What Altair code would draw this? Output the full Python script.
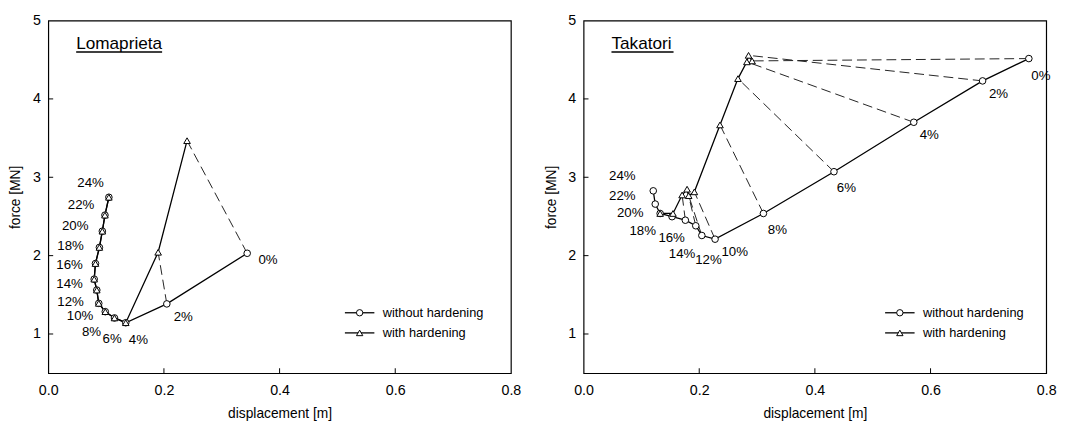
import altair as alt
import pandas as pd

FONT = "Liberation Sans"
W, H = 471, 359

PCT_LABELS = ["0%", "2%", "4%", "6%", "8%", "10%", "12%", "14%", "16%", "18%", "20%", "22%", "24%"]
SERIES = ["without hardening", "with hardening"]
SHAPES = ["circle", "triangle-up"]
X_TICKS = [0.0, 0.2, 0.4, 0.6, 0.8]
Y_TICKS = [1, 2, 3, 4, 5]

# ---- Lomaprieta ----
loma_without_x = [0.344, 0.205, 0.134, 0.1145, 0.0986, 0.0873, 0.0839, 0.0794, 0.0816, 0.0884, 0.0935, 0.098, 0.1048]
loma_without_y = [2.03, 1.384, 1.144, 1.205, 1.285, 1.391, 1.561, 1.70, 1.899, 2.105, 2.312, 2.517, 2.745]
loma_with_x = [0.240, 0.190, 0.134, 0.1145, 0.0986, 0.0873, 0.0839, 0.0794, 0.0816, 0.0884, 0.0935, 0.098, 0.1048]
loma_with_y = [3.467, 2.043, 1.144, 1.205, 1.285, 1.391, 1.561, 1.70, 1.899, 2.105, 2.312, 2.517, 2.745]
loma_label_x = [0.380, 0.2335, 0.1558, 0.1105, 0.0748, 0.0551, 0.0386, 0.0369, 0.0369, 0.0386, 0.0466, 0.0568, 0.0731]
loma_label_y = [1.948, 1.214, 0.926, 0.938, 1.020, 1.226, 1.412, 1.639, 1.874, 2.121, 2.381, 2.650, 2.931]

# ---- Takatori ----
taka_without_x = [0.770, 0.690, 0.571, 0.433, 0.311, 0.2274, 0.2045, 0.194, 0.176, 0.153, 0.1324, 0.1239, 0.1205]
taka_without_y = [4.515, 4.230, 3.702, 3.071, 2.538, 2.210, 2.257, 2.381, 2.452, 2.497, 2.538, 2.658, 2.827]
taka_with_x = [0.2914, 0.2853, 0.2824, 0.267, 0.2359, 0.1916, 0.1818, 0.179, 0.1704, 0.1546, 0.1324]
taka_with_y = [4.485, 4.556, 4.473, 4.259, 3.668, 2.814, 2.765, 2.848, 2.774, 2.538, 2.538]
taka_label_x = [0.7909, 0.7176, 0.5977, 0.4545, 0.3352, 0.2614, 0.2160, 0.1704, 0.1523, 0.1022, 0.0807, 0.0671, 0.0671]
taka_label_y = [4.287, 4.061, 3.537, 2.864, 2.328, 2.040, 1.949, 2.023, 2.218, 2.312, 2.538, 2.764, 3.020]


def legend_layers(leg_x):
    """Key drawn as a small line with its marker and the series name."""
    out = []
    for i, (name, shp) in enumerate(zip(SERIES, SHAPES)):
        row_y = H - 61.5 + i * 20.5
        d = pd.DataFrame({"series": [name]})
        out.append(alt.Chart(d).mark_rule(color="black", strokeWidth=1.3).encode(
            x=alt.value(leg_x), x2=alt.value(leg_x + 30), y=alt.value(row_y)))
        out.append(alt.Chart(d).mark_point(shape=shp, filled=False, fill="white", fillOpacity=1,
                                           stroke="black", strokeWidth=1, size=42, opacity=1).encode(
            x=alt.value(leg_x + 15), y=alt.value(row_y)))
        out.append(alt.Chart(d).mark_text(font=FONT, fontSize=13, color="black", align="left",
                                          baseline="middle").encode(
            x=alt.value(leg_x + 38.5), y=alt.value(row_y), text="series:N"))
    return out


def panel(title, wo_x, wo_y, w_x, w_y, lab_x, lab_y, title_w, leg_x):
    pts = pd.DataFrame({
        "x": wo_x + w_x,
        "y": wo_y + w_y,
        "series": [SERIES[0]] * len(wo_x) + [SERIES[1]] * len(w_x),
        "step": list(range(len(wo_x))) + list(range(len(w_x))),
    })
    m = min(len(wo_x), len(w_x))
    conn = pd.DataFrame({"x": wo_x[:m], "y": wo_y[:m], "x2": w_x[:m], "y2": w_y[:m]})
    conn = conn[((conn.x - conn.x2).abs() > 1e-6) | ((conn.y - conn.y2).abs() > 1e-6)]
    labels = pd.DataFrame({"x": lab_x, "y": lab_y, "t": PCT_LABELS})

    xs = alt.Scale(domain=[0, 0.8], nice=False, zero=False)
    ys = alt.Scale(domain=[0.5, 5], nice=False, zero=False)
    X = alt.X("x:Q", scale=xs, axis=alt.Axis(values=X_TICKS, format=".1f", title="displacement [m]",
                                             labelPadding=11, titlePadding=10, labelFlush=False))
    Y = alt.Y("y:Q", scale=ys, axis=alt.Axis(values=Y_TICKS, format="d", title="force [MN]",
                                             labelPadding=8, titlePadding=10, labelFlush=False))

    dashed = alt.Chart(conn).mark_rule(color="#222", strokeWidth=1, strokeDash=[10, 5]).encode(
        x=X, y=Y, x2="x2:Q", y2="y2:Q")
    lines = alt.Chart(pts).mark_line(color="black", strokeWidth=1.3).encode(
        x=X, y=Y, detail="series:N", order="step:Q")
    points = alt.Chart(pts).mark_point(filled=False, fill="white", stroke="black", strokeWidth=1,
                                       size=45, opacity=1, fillOpacity=1).encode(
        x=X, y=Y,
        shape=alt.Shape("series:N", scale=alt.Scale(domain=SERIES, range=SHAPES), legend=None))
    texts = alt.Chart(labels).mark_text(font=FONT, fontSize=13.5, color="black",
                                        align="center", baseline="middle").encode(
        x=X, y=Y, text="t:N")

    xt = alt.Chart(pd.DataFrame({"x": X_TICKS[1:-1]})).mark_rule(color="black", strokeWidth=1).encode(
        x=X, y=alt.value(H), y2=alt.value(H - 5))
    yt = alt.Chart(pd.DataFrame({"y": Y_TICKS[:-1]})).mark_rule(color="black", strokeWidth=1).encode(
        y=Y, x=alt.value(0), x2=alt.value(5))

    tdf = pd.DataFrame({"t": [title]})
    ttl = alt.Chart(tdf).mark_text(font=FONT, fontSize=17.5, color="black", align="left",
                                   baseline="alphabetic").encode(
        x=alt.value(28.4), y=alt.value(29), text="t:N")
    uline = alt.Chart(tdf).mark_rule(color="black", strokeWidth=1.5).encode(
        x=alt.value(28.4), x2=alt.value(28.4 + title_w), y=alt.value(32))

    return alt.layer(dashed, lines, points, texts, xt, yt, ttl, uline,
                     *legend_layers(leg_x)).properties(width=W, height=H)


left = panel("Lomaprieta", loma_without_x, loma_without_y, loma_with_x, loma_with_y,
             loma_label_x, loma_label_y, 87.5, 302)
right = panel("Takatori", taka_without_x, taka_without_y, taka_with_x, taka_with_y,
              taka_label_x, taka_label_y, 63.2, 307)

chart = alt.hconcat(left, right, spacing=22).properties(
    padding={"left": 0, "top": 0, "right": 0, "bottom": 0}
).configure(background="white").configure_view(
    stroke="black", strokeWidth=1.2
).configure_axis(
    domain=False, ticks=False, grid=False, labelFont=FONT, titleFont=FONT,
    labelFontSize=14.5, titleFontSize=14, titleFontWeight="normal",
    labelColor="black", titleColor="black"
)

chart.save("out.html", embed_options={"renderer": "svg", "actions": False})
